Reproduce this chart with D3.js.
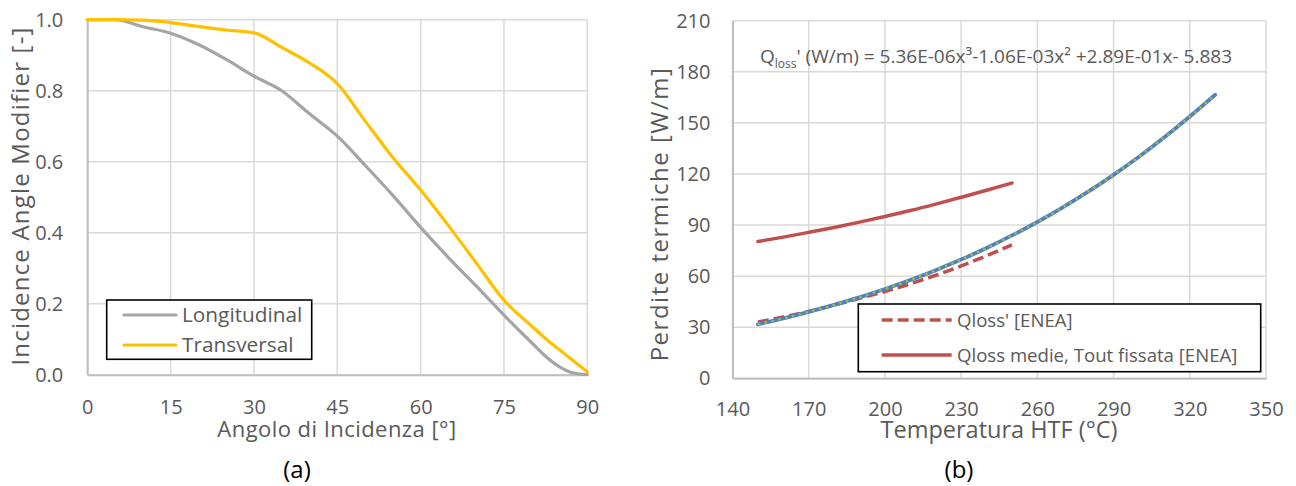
<!DOCTYPE html>
<html>
<head>
<meta charset="utf-8">
<script src="https://cdnjs.cloudflare.com/ajax/libs/d3/7.8.5/d3.min.js"></script>
<style>
  html, body { margin: 0; padding: 0; background: #fff; }
  svg { display: block; font-family: "Open Sans", sans-serif; }
</style>
</head>
<body>
<svg id="chart" width="1296" height="486"></svg>
<script>
// ---- Panel (a): incidence angle modifier ----
const angles = [0, 5, 10, 15, 20, 25, 30, 35, 40, 45, 50, 55, 60, 65, 70, 75, 80, 83, 85, 87, 90];
const iamLongitudinal = [1.0, 1.0, 0.98, 0.962, 0.93, 0.888, 0.841, 0.80, 0.735, 0.672, 0.59, 0.505, 0.415, 0.33, 0.25, 0.168, 0.09, 0.045, 0.022, 0.007, 0.0];
const iamTransversal = [1.0, 1.0, 0.999, 0.992, 0.981, 0.971, 0.963, 0.922, 0.878, 0.82, 0.715, 0.612, 0.52, 0.42, 0.315, 0.21, 0.137, 0.095, 0.07, 0.045, 0.008];
const angleTicks = [0, 15, 30, 45, 60, 75, 90];
const iamTicks = [0, 0.2, 0.4, 0.6, 0.8, 1.0];

// ---- Panel (b): thermal losses vs HTF temperature ----
const tempFit = [150, 160, 170, 180, 190, 200, 210, 220, 230, 240, 250, 260, 270, 280, 290, 300, 310, 320, 330];
const qlossFit = [31.7, 35.2, 39.0, 43.1, 47.5, 52.4, 57.7, 63.5, 69.7, 76.5, 83.9, 91.8, 100.4, 109.6, 119.5, 130.1, 141.5, 153.7, 166.5];
const tempEnea = [150, 160, 170, 180, 190, 200, 210, 220, 230, 240, 250];
const qlossEnea = [33, 36, 39.3, 43, 47, 51, 55.5, 60.5, 66, 72, 78.4];
const qlossMean = [80.3, 82.9, 85.7, 88.6, 91.7, 95.0, 98.5, 102.3, 106.3, 110.4, 114.7];
const tempTicks = [140, 170, 200, 230, 260, 290, 320, 350];
const qlossTicks = [0, 30, 60, 90, 120, 150, 180, 210];

const svg = d3.select("#chart");
const textColor = "#595959";
const gridColor = "#d9d9d9";
const axisColor = "#bfbfbf";

function drawFrame(g, x, y, xTicks, yTicks, fmtY, xLabelOffset, yLabelPad) {
  // horizontal grid
  g.append("g").selectAll("line").data(yTicks).join("line")
    .attr("x1", x.range()[0]).attr("x2", x.range()[1])
    .attr("y1", d => y(d)).attr("y2", d => y(d))
    .attr("stroke", gridColor).attr("stroke-width", 1.5);
  // vertical grid
  g.append("g").selectAll("line").data(xTicks).join("line")
    .attr("x1", d => x(d)).attr("x2", d => x(d))
    .attr("y1", y.range()[0]).attr("y2", y.range()[1])
    .attr("stroke", gridColor).attr("stroke-width", 1.5);

  const xAxis = g.append("g").attr("transform", `translate(0,${y.range()[0]})`)
    .call(d3.axisBottom(x).tickValues(xTicks).tickSize(0));
  xAxis.selectAll(".tick text").attr("y", xLabelOffset).attr("dy", null);
  const yAxis = g.append("g").attr("transform", `translate(${x.range()[0]},0)`)
    .call(d3.axisLeft(y).tickValues(yTicks).tickSize(0).tickPadding(yLabelPad).tickFormat(fmtY));
  [xAxis, yAxis].forEach(a => {
    a.select(".domain").attr("stroke", axisColor).attr("stroke-width", 2);
    a.selectAll("text").attr("fill", textColor).style("font-size", "20px")
      .style("font-family", "Open Sans, sans-serif");
  });
}

// ---------- Panel (a) ----------
{
  const x = d3.scaleLinear().domain([0, 90]).range([87.3, 587.3]);
  const y = d3.scaleLinear().domain([0, 1]).range([374.7, 19.7]);
  const g = svg.append("g");
  drawFrame(g, x, y, angleTicks, iamTicks, d3.format(".1f"), 39, 24);

  const line = d3.line().x(d => x(d[0])).y(d => y(d[1])).curve(d3.curveMonotoneX);
  g.append("path").datum(d3.zip(angles, iamLongitudinal)).attr("d", line)
    .attr("fill", "none").attr("stroke", "#a5a5a5").attr("stroke-width", 3.2).attr("stroke-linecap", "round");
  g.append("path").datum(d3.zip(angles, iamTransversal)).attr("d", line)
    .attr("fill", "none").attr("stroke", "#ffc000").attr("stroke-width", 3.2).attr("stroke-linecap", "round");

  g.append("text").attr("x", 337).attr("y", 437).attr("text-anchor", "middle")
    .attr("fill", textColor).style("font-size", "22px").style("letter-spacing", "0.45px")
    .text("Angolo di Incidenza [°]");
  g.append("text").attr("transform", "translate(29,196) rotate(-90)").attr("text-anchor", "middle")
    .attr("fill", textColor).style("font-size", "24px").style("letter-spacing", "1.2px")
    .text("Incidence Angle Modifier [-]");
  g.append("text").attr("x", 297).attr("y", 478).attr("text-anchor", "middle")
    .attr("fill", "#000").style("font-size", "24px").text("(a)");

  // legend
  const lg = g.append("g");
  lg.append("rect").attr("x", 106.7).attr("y", 300).attr("width", 205).attr("height", 59.3)
    .attr("fill", "#fff").attr("stroke", "#000").attr("stroke-width", 1.6);
  const items = [["Longitudinal", "#a5a5a5", 315], ["Transversal", "#ffc000", 345]];
  items.forEach(([label, color, yy]) => {
    lg.append("line").attr("x1", 124).attr("x2", 176).attr("y1", yy).attr("y2", yy)
      .attr("stroke", color).attr("stroke-width", 3.2).attr("stroke-linecap", "round");
    lg.append("text").attr("x", 182).attr("y", yy).attr("dy", "0.35em")
      .attr("fill", textColor).style("font-size", "20.8px").text(label);
  });
}

// ---------- Panel (b) ----------
{
  const x = d3.scaleLinear().domain([140, 350]).range([732.5, 1266]);
  const y = d3.scaleLinear().domain([0, 210]).range([378.3, 20.7]);
  const g = svg.append("g");
  drawFrame(g, x, y, tempTicks, qlossTicks, d3.format("d"), 37.5, 22);

  const line = d3.line().x(d => x(d[0])).y(d => y(d[1])).curve(d3.curveMonotoneX);
  g.append("path").datum(d3.zip(tempEnea, qlossMean)).attr("d", line)
    .attr("fill", "none").attr("stroke", "#c0504d").attr("stroke-width", 3.5).attr("stroke-linecap", "round");
  g.append("path").datum(d3.zip(tempEnea, qlossEnea)).attr("d", line)
    .attr("fill", "none").attr("stroke", "#c0504d").attr("stroke-width", 3.5)
    .attr("stroke-dasharray", "11,5");
  g.append("path").datum(d3.zip(tempFit, qlossFit)).attr("d", line)
    .attr("fill", "none").attr("stroke", "#4f81bd").attr("stroke-width", 3.8).attr("stroke-linecap", "round");
  g.append("path").datum(d3.zip(tempFit, qlossFit)).attr("d", line)
    .attr("fill", "none").attr("stroke", "#9bbb59").attr("stroke-width", 2.4)
    .attr("stroke-dasharray", "2.4,4.6");

  // fitted polynomial label
  const eq = g.append("text").attr("x", 760).attr("y", 63).attr("fill", textColor).style("font-size", "19px");
  eq.append("tspan").text("Q");
  eq.append("tspan").attr("dy", 5).style("font-size", "12px").text("loss");
  eq.append("tspan").attr("dy", -5).text("' (W/m) = 5.36E-06x³-1.06E-03x² +2.89E-01x- 5.883");

  g.append("text").attr("x", 999).attr("y", 438).attr("text-anchor", "middle")
    .attr("fill", textColor).style("font-size", "23.5px").text("Temperatura HTF (°C)");
  g.append("text").attr("transform", "translate(668,214) rotate(-90)").attr("text-anchor", "middle")
    .attr("fill", textColor).style("font-size", "24px").style("letter-spacing", "1.5px")
    .text("Perdite termiche [W/m]");
  g.append("text").attr("x", 959).attr("y", 478).attr("text-anchor", "middle")
    .attr("fill", "#000").style("font-size", "24px").text("(b)");

  // legend
  const lg = g.append("g");
  lg.append("rect").attr("x", 858.3).attr("y", 304).attr("width", 402.4).attr("height", 67.7)
    .attr("fill", "#fff").attr("stroke", "#000").attr("stroke-width", 1.6);
  const items = [["Qloss' [ENEA]", "11,5", 320], ["Qloss medie, Tout fissata [ENEA]", null, 355]];
  items.forEach(([label, dash, yy]) => {
    const l = lg.append("line").attr("x1", 881.7).attr("x2", 951.7).attr("y1", yy).attr("y2", yy)
      .attr("stroke", "#c0504d").attr("stroke-width", 3.5);
    if (dash) l.attr("stroke-dasharray", dash);
    lg.append("text").attr("x", 957).attr("y", yy).attr("dy", "0.35em")
      .attr("fill", textColor).style("font-size", "18.6px").text(label);
  });
}
</script>
</body>
</html>
